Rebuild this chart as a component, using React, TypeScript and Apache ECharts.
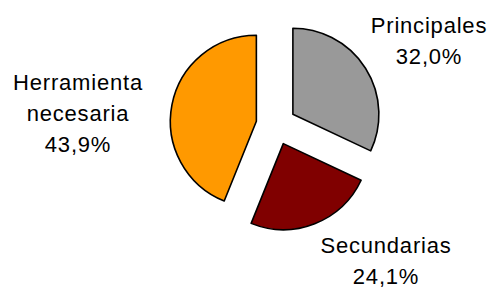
import React, { useEffect, useRef } from "react";
import * as echarts from "echarts";

const categories = ["Principales", "Secundarias", "Herramienta\nnecesaria"];
const values = [32.0, 24.1, 43.9];
const colors = ["#999999", "#800000", "#FF9900"];

const labelSpots = [
  { x: 429, y: 41 },
  { x: 386, y: 261 },
  { x: 78, y: 113 },
];

const fmt = (v: number) => v.toFixed(1).replace(".", ",") + "%";

export default function App() {
  const ref = useRef<HTMLDivElement>(null);
  useEffect(() => {
    document.body.style.margin = "0";
    const chart = echarts.init(ref.current!, null, { renderer: "svg" });
    const total = values.reduce((a, b) => a + b, 0);
    chart.setOption({
      animation: false,
      backgroundColor: "#ffffff",
      graphic: categories.map((c, i) => ({
        type: "text",
        x: labelSpots[i].x,
        y: labelSpots[i].y,
        silent: true,
        style: {
          text: c + "\n" + fmt((values[i] / total) * 100),
          fill: "#000000",
          fontFamily: "Arial, 'Liberation Sans', sans-serif",
          fontSize: 22,
          lineHeight: 31,
          align: "center",
          verticalAlign: "middle",
        },
      })),
      series: [
        {
          type: "pie",
          center: [276, 125],
          radius: [0, 86],
          startAngle: 90,
          clockwise: true,
          selectedMode: "multiple",
          selectedOffset: 20,
          silent: true,
          itemStyle: { borderColor: "#000000", borderWidth: 1.6 },
          label: { show: false },
          labelLine: { show: false },
          data: categories.map((c, i) => ({
            name: c,
            value: values[i],
            selected: true,
            itemStyle: { color: colors[i] },
          })),
        },
      ],
    });
    return () => chart.dispose();
  }, []);
  return (
    <>
      <style>{`.piebox text { letter-spacing: 0.8px; }`}</style>
      <div className="piebox" ref={ref} style={{ width: 492, height: 289 }} />
    </>
  );
}
